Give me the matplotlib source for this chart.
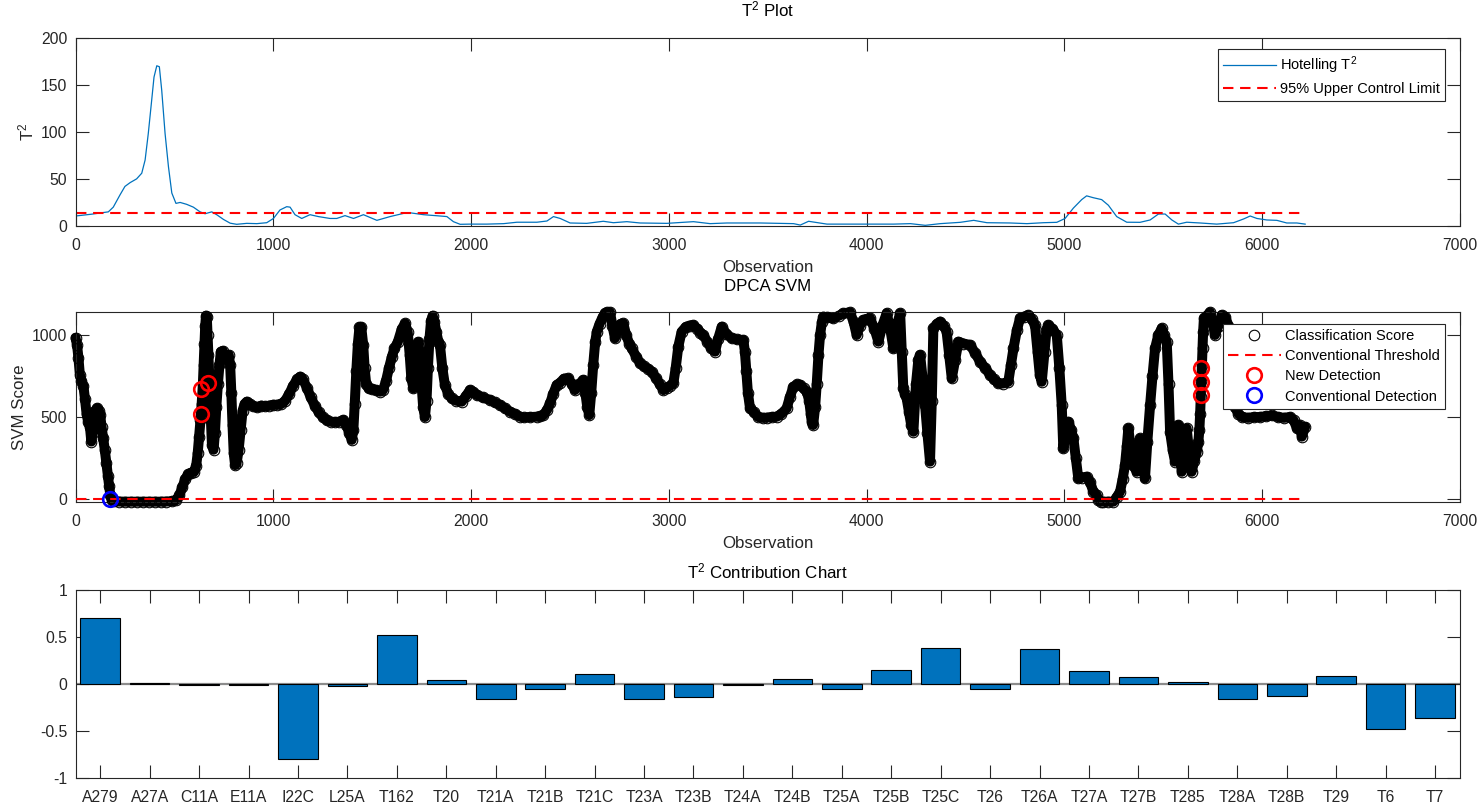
import numpy as np
import matplotlib
matplotlib.use("Agg")
import matplotlib.pyplot as plt

plt.rcParams['font.family'] = ['Liberation Sans', 'DejaVu Sans']
plt.rcParams['mathtext.fontset'] = 'custom'
plt.rcParams['mathtext.rm'] = 'Liberation Sans'
plt.rcParams['mathtext.it'] = 'Liberation Sans:italic'
plt.rcParams['axes.unicode_minus'] = False

# Hotelling T^2 trace
t2_obs = [0, 80, 166, 191, 225, 250, 276, 309, 335, 352, 368, 385, 397, 411, 424, 436, 453, 470, 487, 508,
          529, 562, 596, 630, 655, 689, 714, 748, 782, 815, 866, 917, 967, 1001, 1034, 1068, 1085, 1110, 1144, 1186,
          1228, 1287, 1321, 1363, 1406, 1456, 1524, 1591, 1659, 1692, 1760, 1844, 1878, 1911, 1945, 1996, 2080, 2165, 2232, 2333,
          2384, 2417, 2451, 2501, 2585, 2669, 2720, 2788, 2855, 2990, 3125, 3209, 3294, 3462, 3631, 3665, 3707, 3800, 3969, 4137,
          4222, 4297, 4373, 4474, 4542, 4609, 4727, 4811, 4895, 4962, 5004, 5046, 5088, 5113, 5147, 5189, 5223, 5265, 5316, 5383,
          5434, 5476, 5510, 5544, 5577, 5619, 5687, 5771, 5856, 5906, 5940, 5974, 6024, 6075, 6125, 6176, 6218]
t2_val = [10.6, 12.5, 15, 20, 33, 42, 46, 50, 56, 70, 98, 133, 158, 170, 169, 144, 98, 63, 35, 24,
          25, 23, 20, 15, 13, 15, 12, 7, 3, 1.8, 2.8, 2.5, 3.5, 8, 17, 20.5, 20, 12, 8, 12,
          10, 8, 8, 11, 8, 12, 6, 10, 13.4, 14, 12, 10.6, 10, 4.6, 1.8, 2, 2, 2.5, 4, 4,
          5.3, 10, 8, 3.2, 2.8, 5, 3.5, 4.6, 3.2, 2.8, 4.6, 2.5, 3.2, 3.2, 2.5, 1, 5, 2, 2, 2,
          2.5, 0.7, 2.5, 3.9, 6, 3.5, 3.2, 2.5, 3.5, 3.9, 8, 19, 28, 32, 30, 28, 22, 10, 4, 3.9,
          6.4, 12.7, 12.7, 6.4, 2, 4, 3.2, 2, 3.5, 7.4, 10.6, 8, 6.4, 6, 3.2, 3.2, 2]
t2_ucl = 14.1

# DPCA SVM classification score
svm_obs = [0, 8, 15, 22, 30, 40, 48, 56, 64, 73,
           80, 86, 92, 100, 110, 118, 125, 132, 140, 148,
           156, 164, 170, 176, 184, 195, 220, 250, 280, 310,
           340, 370, 400, 430, 460, 490, 510, 525, 540, 555,
           570, 585, 600, 610, 618, 625, 632, 638, 644, 648,
           652, 656, 660, 664, 668, 672, 676, 680, 685, 690,
           698, 705, 712, 720, 728, 735, 745, 755, 765, 775,
           782, 788, 794, 800, 807, 815, 825, 835, 845, 855,
           866, 880, 900, 920, 940, 960, 980, 1000, 1020, 1040,
           1060, 1080, 1100, 1120, 1136, 1150, 1170, 1190, 1210, 1230,
           1250, 1270, 1290, 1310, 1330, 1355, 1370, 1385, 1397, 1405,
           1412, 1420, 1428, 1436, 1445, 1455, 1462, 1470, 1482, 1500,
           1520, 1540, 1555, 1570, 1585, 1600, 1613, 1630, 1650, 1667,
           1680, 1690, 1698, 1709, 1718, 1726, 1734, 1742, 1750, 1758,
           1767, 1775, 1782, 1790, 1798, 1806, 1815, 1825, 1835, 1843,
           1855, 1868, 1885, 1902, 1925, 1953, 1975, 1995, 2010, 2029,
           2060, 2096, 2120, 2147, 2170, 2197, 2220, 2248, 2270, 2300,
           2332, 2350, 2366, 2385, 2400, 2415, 2433, 2450, 2470, 2492,
           2510, 2526, 2545, 2568, 2578, 2588, 2598, 2608, 2618, 2628,
           2636, 2650, 2665, 2678, 2690, 2703, 2715, 2728, 2742, 2756,
           2770, 2785, 2800, 2813, 2835, 2855, 2875, 2895, 2914, 2935,
           2955, 2973, 2990, 3005, 3023, 3035, 3048, 3065, 3085, 3105,
           3124, 3145, 3160, 3175, 3195, 3215, 3234, 3250, 3268, 3290,
           3318, 3345, 3377, 3385, 3392, 3400, 3411, 3430, 3453, 3475,
           3495, 3520, 3546, 3570, 3596, 3612, 3630, 3650, 3664, 3682,
           3698, 3710, 3718, 3723, 3730, 3740, 3748, 3757, 3765, 3774,
           3782, 3800, 3832, 3860, 3883, 3917, 3935, 3950, 3967, 3984,
           4000, 4018, 4040, 4060, 4080, 4102, 4120, 4136, 4153, 4170,
           4178, 4186, 4194, 4203, 4215, 4226, 4237, 4250, 4262, 4271,
           4285, 4296, 4308, 4321, 4330, 4338, 4355, 4372, 4390, 4405,
           4418, 4431, 4448, 4465, 4490, 4524, 4550, 4574, 4600, 4625,
           4645, 4667, 4690, 4717, 4730, 4743, 4760, 4776, 4798, 4818,
           4835, 4852, 4865, 4876, 4886, 4900, 4910, 4920, 4940, 4962,
           4975, 4987, 4995, 5008, 5021, 5035, 5046, 5058, 5071, 5090,
           5113, 5130, 5147, 5164, 5173, 5185, 5198, 5220, 5248, 5265,
           5282, 5295, 5307, 5316, 5324, 5332, 5341, 5352, 5366, 5375,
           5383, 5396, 5408, 5420, 5434, 5446, 5459, 5475, 5493, 5505,
           5518, 5527, 5535, 5548, 5560, 5568, 5577, 5585, 5594, 5605,
           5619, 5630, 5644, 5657, 5670, 5678, 5683, 5687, 5690, 5693,
           5696, 5699, 5702, 5706, 5720, 5737, 5750, 5762, 5780, 5796,
           5815, 5830, 5845, 5855, 5864, 5880, 5900, 5930, 5960, 5990,
           6020, 6050, 6080, 6110, 6141, 6160, 6177, 6190, 6201, 6218]
svm_val = [985, 940, 860, 760, 720, 690, 610, 520, 470, 440,
           350, 400, 500, 540, 555, 540, 510, 440, 370, 300,
           220, 140, 80, 20, -10, -15, -17, -18, -18, -18,
           -18, -18, -18, -18, -17, -15, -8, 20, 70, 120,
           150, 160, 165, 200, 280, 380, 480, 580, 700, 820,
           950, 1060, 1120, 1110, 1000, 880, 760, 620, 480, 330,
           300, 400, 560, 700, 820, 900, 905, 860, 870, 880,
           820, 650, 450, 280, 206, 220, 300, 420, 540, 580,
           594, 580, 565, 560, 570, 565, 570, 575, 575, 580,
           600, 640, 690, 730, 747, 730, 680, 620, 570, 530,
           500, 480, 471, 470, 470, 482, 450, 400, 360, 420,
           580, 780, 950, 1050, 1050, 940, 800, 700, 675, 670,
           665, 655, 665, 720, 800, 870, 920, 960, 1040, 1073,
           1020, 880, 740, 675, 780, 900, 960, 860, 700, 560,
           500, 600, 800, 980, 1090, 1120, 1080, 1020, 960, 940,
           800, 696, 640, 614, 600, 594, 630, 665, 655, 635,
           620, 604, 590, 573, 555, 533, 520, 502, 498, 500,
           502, 505, 512, 545, 584, 640, 696, 710, 735, 737,
           700, 665, 700, 727, 650, 560, 512, 650, 820, 960,
           1022, 1070, 1110, 1135, 1141, 1141, 1060, 982, 1040, 1070,
           1073, 1000, 950, 920, 870, 829, 810, 795, 778, 740,
           700, 665, 680, 690, 706, 800, 930, 1022, 1050, 1060,
           1063, 1040, 1015, 1002, 960, 920, 900, 980, 1053, 1010,
           982, 975, 971, 900, 780, 650, 553, 530, 500, 495,
           496, 500, 502, 520, 553, 620, 686, 700, 696, 675,
           655, 600, 520, 471, 451, 560, 700, 880, 1000, 1080,
           1114, 1110, 1104, 1120, 1135, 1141, 1080, 1002, 1060, 1094,
           1100, 1104, 1040, 961, 1060, 1135, 1040, 920, 1060, 1135,
           900, 675, 640, 614, 530, 450, 410, 700, 850, 880,
           720, 573, 400, 227, 600, 1043, 1070, 1084, 1060, 1022,
           880, 737, 850, 961, 950, 941, 890, 839, 800, 757,
           730, 706, 705, 716, 820, 920, 1030, 1104, 1115, 1124,
           1100, 1063, 900, 760, 716, 900, 1030, 1063, 1040, 1002,
           800, 573, 308, 420, 471, 420, 369, 250, 124, 130,
           135, 104, 43, 22, -10, -18, -18, -18, -18, 10,
           43, 120, 206, 320, 431, 350, 267, 200, 165, 270,
           369, 250, 124, 350, 573, 750, 920, 1000, 1043, 1000,
           961, 700, 410, 300, 227, 350, 451, 300, 165, 300,
           431, 300, 165, 230, 288, 350, 420, 520, 620, 720,
           820, 920, 1020, 1104, 1120, 1141, 1080, 1002, 1060, 1124,
           1110, 1060, 900, 700, 560, 520, 500, 495, 500, 500,
           505, 510, 500, 495, 500, 480, 430, 450, 380, 440]
svm_thresh = 0

new_det_obs = [633, 637, 668, 5692, 5692, 5692]
new_det_val = [518, 671, 706, 799, 716, 635]
conv_det_obs = [174]
conv_det_val = [0]

# T^2 contributions
contrib_names = ['A279', 'A27A', 'C11A', 'E11A', 'I22C', 'L25A', 'T162', 'T20', 'T21A', 'T21B',
                 'T21C', 'T23A', 'T23B', 'T24A', 'T24B', 'T25A', 'T25B', 'T25C', 'T26', 'T26A',
                 'T27A', 'T27B', 'T285', 'T28A', 'T28B', 'T29', 'T6', 'T7']
contrib_vals = [0.706, 0.014, -0.007, -0.007, -0.794, -0.021, 0.521, 0.038, -0.164, -0.049,
                0.108, -0.157, -0.143, -0.01, 0.052, -0.052, 0.154, 0.385, -0.056, 0.374,
                0.143, 0.07, 0.024, -0.157, -0.126, 0.08, -0.476, -0.36]

AXC = '#262626'
BLUE = '#0072BD'
TICK_FS = 11.3
LAB_FS = 12.2
LEG_FS = 10.5


def style(ax):
    for s in ax.spines.values():
        s.set_color(AXC)
        s.set_linewidth(0.8)
    ax.tick_params(direction='in', length=9.5, width=0.8, colors=AXC, labelsize=TICK_FS,
                   top=True, right=True)
    ax.tick_params(axis='x', pad=9)
    ax.tick_params(axis='y', pad=6)


def legend(ax, y):
    leg = ax.legend(loc='upper right', bbox_to_anchor=(0.9893, y), borderaxespad=0,
                    fontsize=LEG_FS, handlelength=3.6, handletextpad=0.3, labelspacing=0.42,
                    borderpad=0.35, fancybox=False, framealpha=1, edgecolor=AXC)
    leg.get_frame().set_linewidth(0.8)
    return leg


W, H = 1482, 808
fig = plt.figure(figsize=(W / 100, H / 100), dpi=100)
left, width = 75.5 / W, 1384.3 / W
ax1 = fig.add_axes([left, 1 - 226 / H, width, 188.5 / H])
ax2 = fig.add_axes([left, 1 - 501.7 / H, width, 189.4 / H])
ax3 = fig.add_axes([left, 1 - 778 / H, width, 188 / H])

# --- T^2 plot
ax1.plot(t2_obs, t2_val, color=BLUE, lw=0.9, label='Hotelling T$^2$')
ax1.plot([t2_obs[0], t2_obs[-1]], [t2_ucl, t2_ucl], color='#FF0000', ls='--', lw=1.5,
         dashes=(5, 3.2), label='95% Upper Control Limit')
ax1.set_xlim(0, 7000)
ax1.set_ylim(0, 200)
ax1.set_yticks([0, 50, 100, 150, 200])
style(ax1)
ax1.set_title('T$^2$ Plot', fontsize=LAB_FS, color='k', pad=15)
ax1.set_xlabel('Observation', fontsize=LAB_FS, color=AXC)
ax1.xaxis.set_label_coords(0.5, -0.178)
ax1.set_ylabel('T$^2$', fontsize=LAB_FS, color=AXC)
ax1.yaxis.set_label_coords(-0.028, 0.5)
legend(ax1, 0.939)

# --- DPCA SVM (markers are not clipped, as in the original)
ax2.plot(svm_obs, svm_val, color='k', lw=7.2, solid_capstyle='round', solid_joinstyle='round',
         zorder=2, clip_on=False, label='_nolegend_')
ax2.plot(svm_obs, svm_val, 'o', mfc='none', mec='k', ms=7.6, mew=0.8, zorder=3, clip_on=False,
         label='Classification Score')
ax2.plot([svm_obs[0], svm_obs[-1]], [svm_thresh, svm_thresh], color='#FF0000', ls='--', lw=1.5,
         dashes=(5, 3.2), zorder=4, label='Conventional Threshold')
ax2.plot(new_det_obs, new_det_val, 'o', mfc='none', mec='#FF0000', ms=10.5, mew=1.9, zorder=5,
         clip_on=False, label='New Detection')
ax2.plot(conv_det_obs, conv_det_val, 'o', mfc='none', mec='#0000FF', ms=10.5, mew=1.9, zorder=5,
         clip_on=False, label='Conventional Detection')
ax2.set_xlim(0, 7000)
ax2.set_ylim(-18, 1141)
ax2.set_yticks([0, 500, 1000])
style(ax2)
ax2.set_title('DPCA SVM', fontsize=LAB_FS, color='k', pad=15)
ax2.set_xlabel('Observation', fontsize=LAB_FS, color=AXC)
ax2.xaxis.set_label_coords(0.5, -0.179)
ax2.set_ylabel('SVM Score', fontsize=LAB_FS, color=AXC)
ax2.yaxis.set_label_coords(-0.035, 0.5)
legend(ax2, 0.938).set_zorder(10)

# --- contribution chart
pos = np.arange(1, len(contrib_names) + 1)
ax3.axhline(0, color='#8c8c8c', lw=1.6, zorder=1)
ax3.bar(pos, contrib_vals, width=0.8, color=BLUE, edgecolor='k', linewidth=0.8, zorder=2)
ax3.set_xlim(0.5, len(contrib_names) + 0.5)
ax3.set_ylim(-1, 1)
ax3.set_yticks([-1, -0.5, 0, 0.5, 1])
ax3.set_yticklabels(['-1', '-0.5', '0', '0.5', '1'])
ax3.set_xticks(pos)
ax3.set_xticklabels(contrib_names)
style(ax3)
ax3.set_title('T$^2$ Contribution Chart', fontsize=LAB_FS, color='k', pad=8)

fig.savefig('out.png', dpi=100)
